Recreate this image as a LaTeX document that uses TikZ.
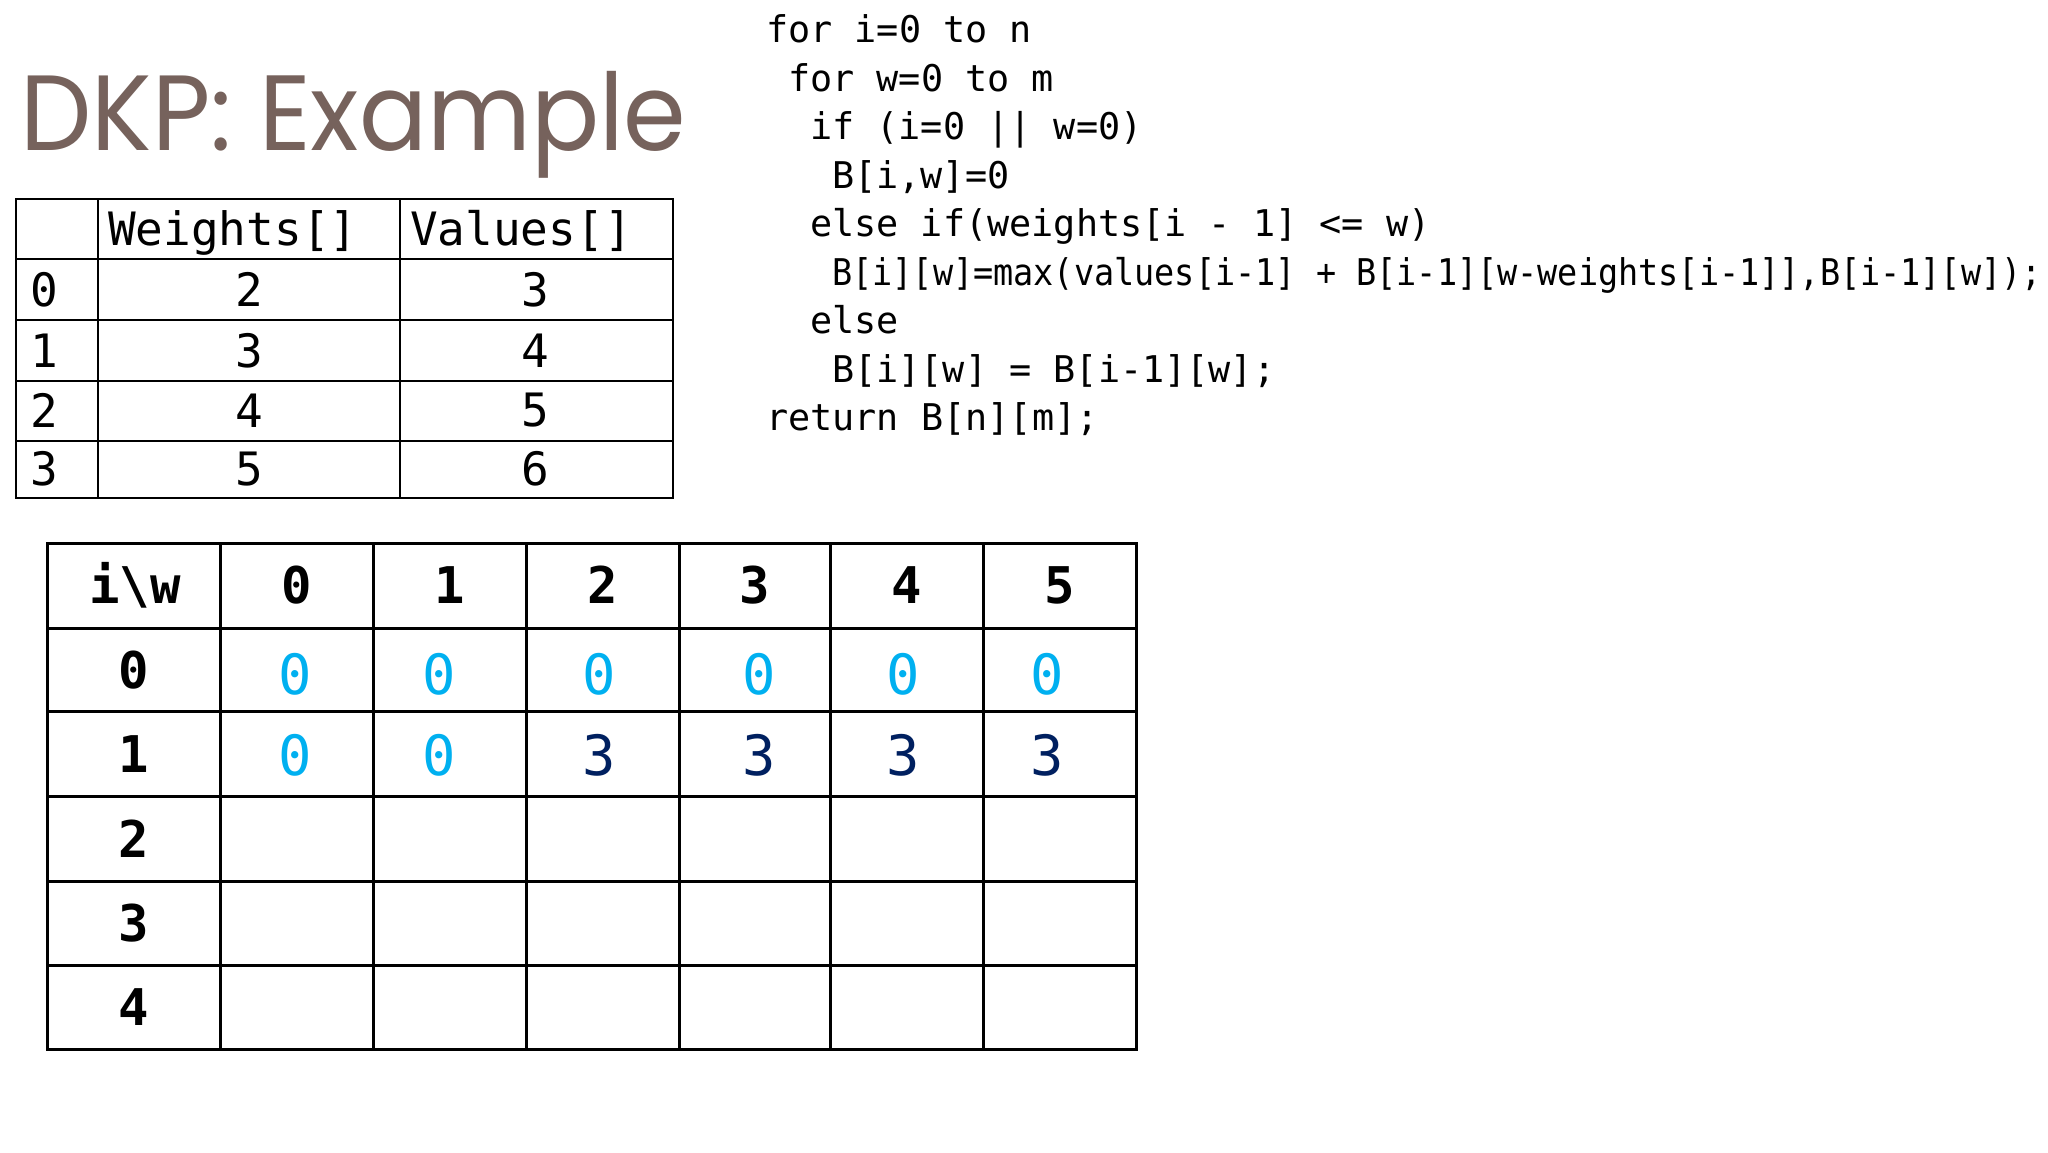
\documentclass[tikz,border=0pt]{standalone}
\usepackage{fontspec}
\usepackage{graphicx}
\newfontfamily\monof{DejaVu Sans Mono}
\newfontfamily\titlef{Poppins}
\definecolor{titlebrown}{HTML}{76625C}
\definecolor{zblue}{HTML}{00B0F0}
\definecolor{navyd}{HTML}{002060}
\tikzset{
  codeline/.style={anchor=base west, inner sep=0pt, font=\monof\fontsize{36.8}{40}\selectfont},
  smallcell/.style={inner sep=0pt, font=\monof\fontsize{46}{50}\selectfont},
  bighead/.style={anchor=base, inner sep=0pt, font=\monof\bfseries\fontsize{50.6}{56}\selectfont},
  bigval/.style={anchor=base, inner sep=0pt, font=\monof\fontsize{55.5}{60}\selectfont},
  zeroval/.style={bigval, text=zblue},
  threeval/.style={bigval, text=navyd},
  smallgrid/.style={line width=2pt, draw=black},
  biggrid/.style={line width=3pt, draw=black}
}
\begin{document}
\begin{tikzpicture}[x=1pt,y=-1pt]
\fill[white] (0,0) rectangle (2048,1152);
\useasboundingbox (0,0) rectangle (2048,1152);

% title
\node[anchor=base west, inner sep=0pt, text=titlebrown, font=\titlef\fontsize{107}{120}\selectfont] (title) at (20.5,150) {\scalebox{0.942}[1]{DKP: Example}};

% code
\node[codeline] (c1) at (766,42.5) {for i=0 to n};
\node[codeline] (c2) at (788,91) {for w=0 to m};
\node[codeline] (c3) at (810,139.5) {if (i=0 || w=0)};
\node[codeline] (c4) at (832,188) {B[i,w]=0};
\node[codeline] (c5) at (810,236.5) {else if(weights[i - 1] <= w)};
\node[codeline] (c6) at (832,285) {\scalebox{0.91}[1]{B[i][w]=max(values[i-1] + B[i-1][w-weights[i-1]],B[i-1][w]);}};
\node[codeline] (c7) at (810,333.5) {else};
\node[codeline] (c8) at (832,382) {B[i][w] = B[i-1][w];};
\node[codeline] (c9) at (766,430.5) {return B[n][m];};

% small table grid
\draw[smallgrid] (15.7,198.5) rectangle (672.6,497.6);
\draw[smallgrid] (98,198.5) -- (98,497.6);
\draw[smallgrid] (400,198.5) -- (400,497.6);
\foreach \yy in {258.6,320,380.5,440.5} \draw[smallgrid] (15.7,\yy) -- (672.6,\yy);

% small table text
\node[smallcell, anchor=base west] (hw) at (108,245) {Weights[]};
\node[smallcell, anchor=base west] (hv) at (410,245) {Values[]};
\node[smallcell, anchor=west] (r0) at (30,289.3) {0};
\node[smallcell, anchor=west] (r1) at (30,350.3) {1};
\node[smallcell, anchor=west] (r2) at (30,410.5) {2};
\node[smallcell, anchor=west] (r3) at (30,469) {3};
\node[smallcell] (w0) at (249,289.3) {2};
\node[smallcell] (w1) at (249,350.3) {3};
\node[smallcell] (w2) at (249,410.5) {4};
\node[smallcell] (w3) at (249,469) {5};
\node[smallcell] (v0) at (535,289.3) {3};
\node[smallcell] (v1) at (535,350.3) {4};
\node[smallcell] (v2) at (535,410.5) {5};
\node[smallcell] (v3) at (535,469) {6};

% big table grid
\draw[biggrid] (47,543) rectangle (1136.3,1049);
\foreach \xx in {220.7,373.5,526.3,679.2,830.7,983.5} \draw[biggrid] (\xx,543) -- (\xx,1049);
\foreach \yy in {628.2,711.8,796.7,881.6,965.2} \draw[biggrid] (47,\yy) -- (1136.3,\yy);

% big table header
\node[bighead] (hiw) at (135,603.5) {i\textbackslash w};
\node[bighead] (h0) at (297,603.5) {0};
\node[bighead] (h1) at (449.9,603.5) {1};
\node[bighead] (h2) at (602.8,603.5) {2};
\node[bighead] (h3) at (755,603.5) {3};
\node[bighead] (h4) at (907,603.5) {4};
\node[bighead] (h5) at (1060,603.5) {5};
% row labels
\node[bighead] (l0) at (134,688.4) {0};
\node[bighead] (l1) at (134,772.7) {1};
\node[bighead] (l2) at (134,857.6) {2};
\node[bighead] (l3) at (134,941.8) {3};
\node[bighead] (l4) at (134,1025.5) {4};
% row 0 values
\node[zeroval] (b00) at (295,694.7) {0};
\node[zeroval] (b01) at (439,694.7) {0};
\node[zeroval] (b02) at (599,694.7) {0};
\node[zeroval] (b03) at (759,694.7) {0};
\node[zeroval] (b04) at (903,694.7) {0};
\node[zeroval] (b05) at (1047,694.7) {0};
% row 1 values
\node[zeroval] (b10) at (295,775.2) {0};
\node[zeroval] (b11) at (439,775.2) {0};
\node[threeval] (b12) at (599,775.2) {3};
\node[threeval] (b13) at (759,775.2) {3};
\node[threeval] (b14) at (903,775.2) {3};
\node[threeval] (b15) at (1047,775.2) {3};
\end{tikzpicture}
\end{document}
